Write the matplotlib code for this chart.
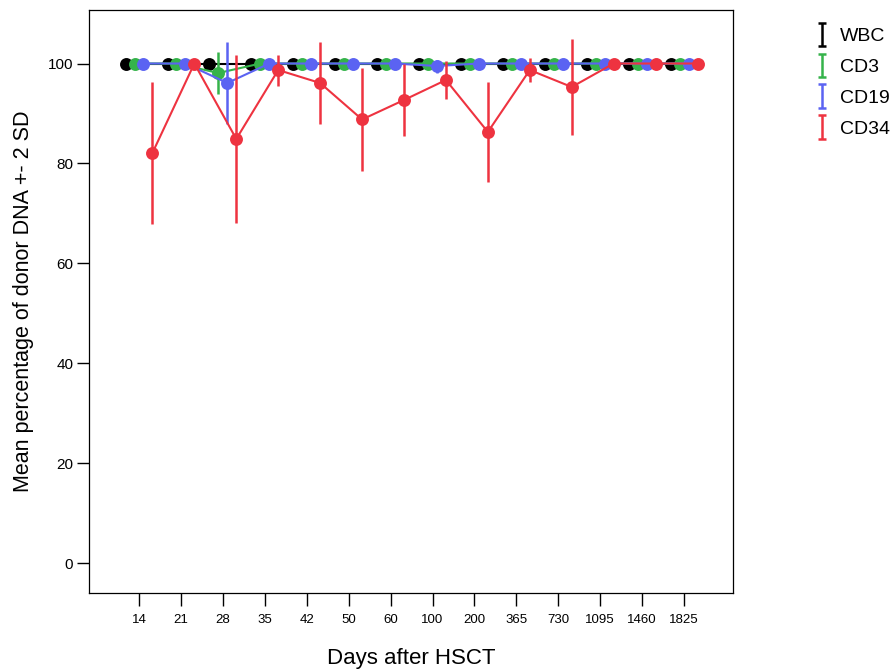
import numpy as np
import matplotlib
matplotlib.use('Agg')
import matplotlib.pyplot as plt
from matplotlib.legend_handler import HandlerErrorbar

plt.rcParams['font.family'] = ['Liberation Sans', 'DejaVu Sans']

# data (mean and 2*SD half width)
days = ['14', '21', '28', '35', '42', '50', '60', '100', '200', '365', '730', '1095', '1460', '1825']
wbc = [100, 100, 100, 100, 100, 100, 100, 100, 100, 100, 100, 100, 100, 100]
wbc_sd = [0, 0, 0, 0, 0, 0, 0, 0, 0, 0, 0, 0, 0, 0]
cd3 = [100, 100, 98.1, 100, 100, 100, 100, 100, 100, 100, 100, 100, 100, 100]
cd3_sd = [0, 0, 4.2, 0, 0, 0, 0, 0, 0, 0, 0, 0, 0, 0]
cd19 = [100, 100, 96.1, 100, 100, 100, 100, 99.5, 100, 100, 100, 100, 100, 100]
cd19_sd = [0, 0, 8.2, 0, 0, 0, 0, 1.3, 0, 0, 0, 0, 0, 0]
cd34 = [82.1, 100, 84.9, 98.7, 96.1, 88.8, 92.7, 96.7, 86.3, 98.7, 95.3, 100, 100, 100]
cd34_sd = [14.2, 0, 16.9, 3.1, 8.15, 10.4, 7.2, 3.8, 10.0, 2.4, 9.6, 0, 0, 0]

series = [('WBC', wbc, wbc_sd, 'black'),
          ('CD3', cd3, cd3_sd, '#35b34a'),
          ('CD19', cd19, cd19_sd, '#5b63f2'),
          ('CD34', cd34, cd34_sd, '#ee3340')]
offsets = [-0.32, -0.107, 0.107, 0.32]

fig = plt.figure(figsize=(8.95, 6.7), dpi=100)
ax = fig.add_axes([0.0998, 0.1154, 0.7189, 0.8696])

pos = np.arange(len(days))
handles = []
for k, (name, vals, sd, col) in enumerate(series):
    x = pos + offsets[k]
    ax.errorbar(x, vals, yerr=sd, fmt='o-', color=col, ecolor=col, lw=1.5,
                elinewidth=1.8, capsize=0, markersize=9.3, markeredgewidth=0,
                zorder=2 + k)
    # dummy capped bar for the legend
    h = ax.errorbar([np.nan], [np.nan], yerr=[1], fmt='none', ecolor=col,
                    elinewidth=1.8, capsize=3, capthick=1.8, label=name)
    handles.append(h)

ax.set_xlim(-1.185, 14.16)
ax.set_ylim(-5.9, 110.7)
ax.set_xticks(pos)
ax.set_xticklabels(days)
ax.set_yticks([0, 20, 40, 60, 80, 100])
ax.tick_params(axis='x', length=9.5, width=1, labelsize=9.5, pad=6)
ax.tick_params(axis='y', length=8.6, width=1, labelsize=11, pad=3)
for s in ax.spines.values():
    s.set_linewidth(0.9)

ax.set_xlabel('Days after HSCT', fontsize=16, labelpad=16)
ax.set_ylabel('Mean percentage of donor DNA +- 2 SD', fontsize=15.5, labelpad=10)

fig.legend(handles=handles, labels=[s[0] for s in series], loc='upper left',
           bbox_to_anchor=(0.892, 0.985), frameon=False, fontsize=14,
           handlelength=0.6, handletextpad=0.65, labelspacing=0.68,
           handler_map={type(handles[0]): HandlerErrorbar(yerr_size=0.6)})

fig.savefig('out.png', dpi=100)
